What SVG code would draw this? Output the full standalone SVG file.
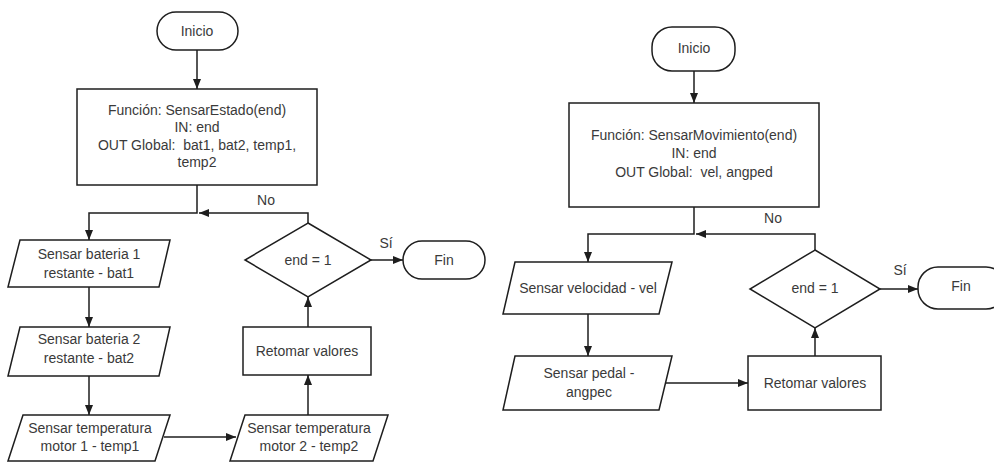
<svg xmlns="http://www.w3.org/2000/svg" width="994" height="462" viewBox="0 0 994 462">
  <defs>
    <marker id="arrow" markerWidth="10" markerHeight="8" refX="10" refY="4" orient="auto" markerUnits="userSpaceOnUse">
      <path d="M0,0 L10,4 L0,8 Z" fill="#1e1e1e"/>
    </marker>
    <style>
      .shape { fill: #ffffff; stroke: #1e1e1e; stroke-width: 1.5; }
      .line { fill: none; stroke: #1e1e1e; stroke-width: 1.5; }
      .arr { marker-end: url(#arrow); }
      text { font-family: "Liberation Sans", Arial, sans-serif; font-size: 14px; fill: #3a3a3a; text-anchor: middle; dominant-baseline: central; }
    </style>
  </defs>
  <rect width="994" height="462" fill="#ffffff"/>

  <!-- Connectors: SensarEstado -->
  <g id="connectors-left">
    <path class="line arr" d="M197,50 L197,89"/>
    <path class="line arr" d="M197,185 L197,213 L89,213 L89,240"/>
    <path class="line arr" d="M308,223 L308,213 L199,213"/>
    <path class="line arr" d="M89,287 L89,327"/>
    <path class="line arr" d="M89,376 L89,415"/>
    <path class="line arr" d="M164,437 L236,437"/>
    <path class="line arr" d="M308,415 L308,375"/>
    <path class="line arr" d="M308,327 L308,297"/>
    <path class="line arr" d="M371,260 L403,260"/>
    <text x="266" y="200">No</text>
    <text x="386" y="243">Sí</text>
  </g>

  <!-- Connectors: SensarMovimiento -->
  <g id="connectors-right">
    <path class="line arr" d="M694,71 L694,103"/>
    <path class="line arr" d="M694,207 L694,234 L588,234 L588,262"/>
    <path class="line arr" d="M815,250 L815,234 L696,234"/>
    <path class="line arr" d="M588,314 L588,356"/>
    <path class="line arr" d="M665,383 L748,383"/>
    <path class="line arr" d="M815,356 L815,328"/>
    <path class="line arr" d="M880,289 L918,289"/>
    <text x="773" y="218">No</text>
    <text x="900" y="270">Sí</text>
  </g>

  <!-- SensarEstado nodes -->
  <g id="l-inicio">
    <rect class="shape" x="157" y="12" width="81" height="38" rx="19"/>
    <text x="197" y="31">Inicio</text>
  </g>
  <g id="l-funcion">
    <rect class="shape" x="77" y="89" width="240" height="96"/>
    <text x="197" y="110">Función: SensarEstado(end)</text>
    <text x="197" y="127">IN: end</text>
    <text x="197" y="145">OUT Global:&#160; bat1, bat2, temp1,</text>
    <text x="197" y="162">temp2</text>
  </g>
  <g id="l-bat1">
    <polygon class="shape" points="20,240 170,240 159,287 8,287"/>
    <text x="89" y="254">Sensar bateria 1</text>
    <text x="89" y="273">restante - bat1</text>
  </g>
  <g id="l-bat2">
    <polygon class="shape" points="20,327 170,327 159,376 8,376"/>
    <text x="89" y="339">Sensar bateria 2</text>
    <text x="89" y="358">restante - bat2</text>
  </g>
  <g id="l-temp1">
    <polygon class="shape" points="23,415 170,415 155,461 8,461"/>
    <text x="90" y="428">Sensar temperatura</text>
    <text x="90" y="446">motor 1 - temp1</text>
  </g>
  <g id="l-temp2">
    <polygon class="shape" points="245,415 388,415 373,461 230,461"/>
    <text x="309" y="428">Sensar temperatura</text>
    <text x="309" y="446">motor 2 - temp2</text>
  </g>
  <g id="l-retomar">
    <rect class="shape" x="243" y="327" width="128" height="48"/>
    <text x="307" y="351">Retomar valores</text>
  </g>
  <g id="l-decision">
    <polygon class="shape" points="308,223 371,260 308,297 245,260"/>
    <text x="308" y="260">end = 1</text>
  </g>
  <g id="l-fin">
    <rect class="shape" x="403" y="241" width="82" height="38" rx="19"/>
    <text x="444" y="260">Fin</text>
  </g>

  <!-- SensarMovimiento nodes -->
  <g id="r-inicio">
    <rect class="shape" x="652" y="27" width="83" height="44" rx="20"/>
    <text x="694" y="48">Inicio</text>
  </g>
  <g id="r-funcion">
    <rect class="shape" x="569" y="103" width="250" height="104"/>
    <text x="694" y="135">Función: SensarMovimiento(end)</text>
    <text x="694" y="153">IN: end</text>
    <text x="694" y="172">OUT Global:&#160; vel, angped</text>
  </g>
  <g id="r-vel">
    <polygon class="shape" points="515,262 672,262 659,314 503,314"/>
    <text x="588" y="288">Sensar velocidad - vel</text>
  </g>
  <g id="r-pedal">
    <polygon class="shape" points="515,356 672,356 659,410 503,410"/>
    <text x="589" y="373">Sensar pedal -</text>
    <text x="589" y="392">angpec</text>
  </g>
  <g id="r-retomar">
    <rect class="shape" x="748" y="356" width="133" height="54"/>
    <text x="815" y="383">Retomar valores</text>
  </g>
  <g id="r-decision">
    <polygon class="shape" points="815,250 880,289 815,328 750,289"/>
    <text x="815" y="288">end = 1</text>
  </g>
  <g id="r-fin">
    <rect class="shape" x="918" y="267" width="88" height="42" rx="20"/>
    <text x="961" y="286">Fin</text>
  </g>
</svg>
